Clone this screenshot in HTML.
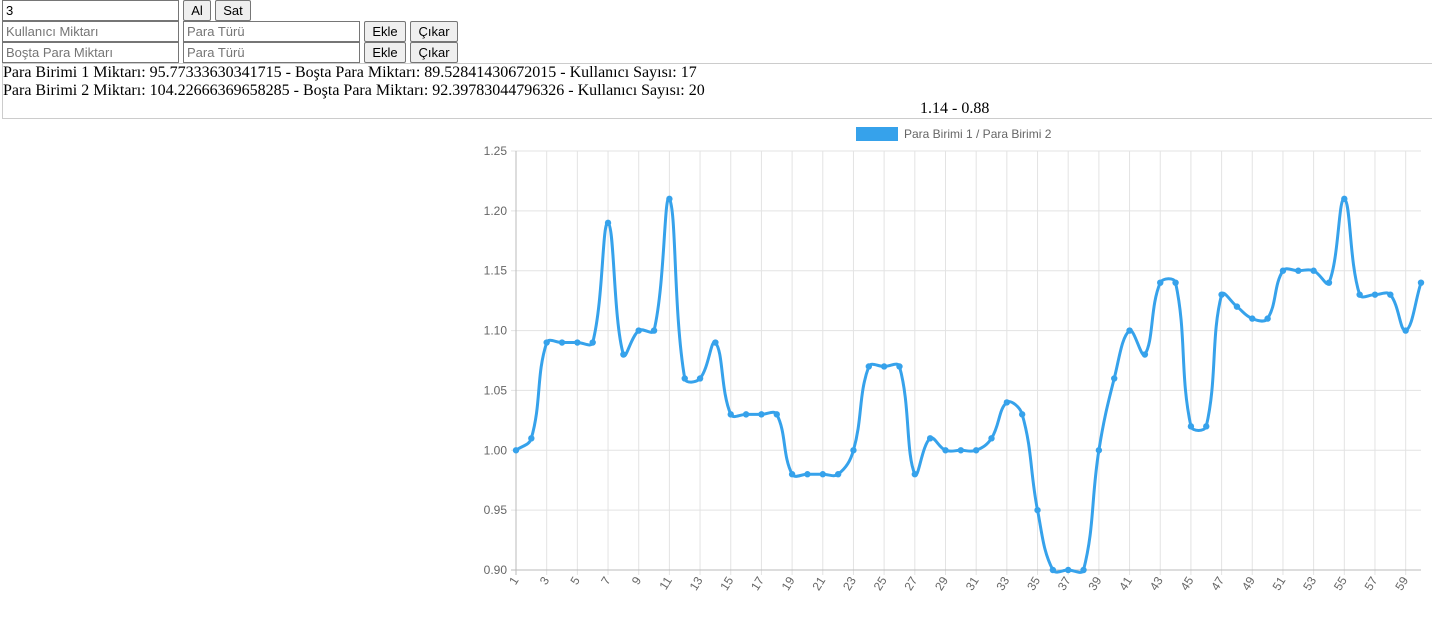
<!DOCTYPE html>
<html><head><meta charset="utf-8"><style>
body{margin:0;width:1432px;height:617px;overflow:hidden;background:#fff;font-family:"Liberation Serif",serif;}
input{position:absolute;height:21px;box-sizing:border-box;border:1px solid #767676;font:13px "Liberation Sans",sans-serif;padding:1px 3px;margin:0;}
input::placeholder{color:#757575}
button{position:absolute;height:21px;box-sizing:border-box;border:1px solid #767676;border-radius:2px;background:#efefef;font:13px "Liberation Sans",sans-serif;padding:0 5px;margin:0;}
#info{position:absolute;left:2px;top:63px;width:1430px;height:56px;border:1px solid #ccc;border-right:none;box-sizing:border-box;font-size:16px;line-height:18px;}
</style></head><body>
<input style="left:2px;top:0;width:177px" value="3">
<button style="left:183px;top:0;width:28px">Al</button>
<button style="left:215px;top:0;width:36px">Sat</button>
<input style="left:2px;top:21px;width:177px" placeholder="Kullanıcı Miktarı">
<input style="left:183px;top:21px;width:177px" placeholder="Para Türü">
<button style="left:364px;top:21px;width:42px">Ekle</button>
<button style="left:410px;top:21px;width:48px">Çıkar</button>
<input style="left:2px;top:42px;width:177px" placeholder="Boşta Para Miktarı">
<input style="left:183px;top:42px;width:177px" placeholder="Para Türü">
<button style="left:364px;top:42px;width:42px">Ekle</button>
<button style="left:410px;top:42px;width:48px">Çıkar</button>
<div id="info">
<div>Para Birimi 1 Miktarı: 95.77333630341715 - Boşta Para Miktarı: 89.52841430672015 - Kullanıcı Sayısı: 17</div>
<div>Para Birimi 2 Miktarı: 104.22666369658285 - Boşta Para Miktarı: 92.39783044796326 - Kullanıcı Sayısı: 20</div>
<div style="padding-left:917px">1.14 - 0.88</div>
</div>
<svg id="chart" style="position:absolute;left:0;top:0" width="1432" height="617"></svg>
<script>
const labels=[];for(let i=1;i<=60;i++)labels.push(String(i));
const values=[1.00,1.01,1.09,1.09,1.09,1.09,1.19,1.08,1.10,1.10,1.21,1.06,1.06,1.09,1.03,1.03,1.03,1.03,0.98,0.98,0.98,0.98,1.00,1.07,1.07,1.07,0.98,1.01,1.00,1.00,1.00,1.01,1.04,1.03,0.95,0.90,0.90,0.90,1.00,1.06,1.10,1.08,1.14,1.14,1.02,1.02,1.13,1.12,1.11,1.11,1.15,1.15,1.15,1.14,1.21,1.13,1.13,1.13,1.10,1.14];
const yTicks=[0.90,0.95,1.00,1.05,1.10,1.15,1.20,1.25];
const seriesName="Para Birimi 1 / Para Birimi 2";
const NS="http://www.w3.org/2000/svg",svg=document.getElementById('chart');
const X0=516,X1=1421,Y0=570,Y1=151,ymin=0.90,ymax=1.25;
const xs=i=>X0+(X1-X0)*i/(labels.length-1);
const ys=v=>Y0-(v-ymin)/(ymax-ymin)*(Y0-Y1);
function mk(t,a,p){const e=document.createElementNS(NS,t);for(const k in a)e.setAttribute(k,a[k]);(p||svg).appendChild(e);return e;}
yTicks.forEach(t=>{const y=ys(t);
const g=mk('line',{x1:X0-5,x2:X1,y1:y,y2:y,stroke:'#e3e3e3'});

const tx=mk('text',{x:X0-9,y:y+4,'text-anchor':'end','font-size':12,fill:'#666','font-family':'Liberation Sans, sans-serif'});
tx.textContent=t.toFixed(2);
});
labels.forEach((l,i)=>{if(i%2)return;const x=xs(i);
const g=mk('line',{x1:x,x2:x,y1:Y1,y2:Y0+5,stroke:i==0?'#bbb':'#e3e3e3'});

const tx=mk('text',{x:x+3,y:Y0+10,'text-anchor':'end','font-size':12,fill:'#666','font-family':'Liberation Sans, sans-serif',transform:`rotate(-58 ${x+3} ${Y0+10})`});
tx.textContent=l;
});
const ax=mk('line',{x1:X0-5,x2:X1,y1:Y0,y2:Y0,stroke:'#bbb'});

const pts=values.map((v,i)=>[xs(i),ys(v)]);const T=0.4;
let d=`M${pts[0][0]},${pts[0][1]}`;
const cps=pts.map((p,i)=>{const a=pts[Math.max(0,i-1)],c=pts[Math.min(pts.length-1,i+1)];
const d01=Math.hypot(p[0]-a[0],p[1]-a[1]),d12=Math.hypot(c[0]-p[0],c[1]-p[1]);
let fa=d01/(d01+d12||1),fb=d12/(d01+d12||1);fa=T*fa;fb=T*fb;
return{pr:[p[0]-fa*(c[0]-a[0]),p[1]-fa*(c[1]-a[1])],nx:[p[0]+fb*(c[0]-a[0]),p[1]+fb*(c[1]-a[1])]};});
for(let i=1;i<pts.length;i++){const c1=cps[i-1].nx,c2=cps[i].pr;d+=` C${c1[0]},${c1[1]} ${c2[0]},${c2[1]} ${pts[i][0]},${pts[i][1]}`;}
const ln=mk('path',{d:d,fill:'none',stroke:'#36a2eb','stroke-width':3});

pts.forEach(p=>{const c=mk('circle',{cx:p[0],cy:p[1],r:3.2,fill:'#36a2eb'});
});
const lb=mk('rect',{x:856,y:127,width:42,height:14,fill:'#36a2eb'});

const lt=mk('text',{x:904,y:138,'font-size':12,fill:'#666','font-family':'Liberation Sans, sans-serif'});
lt.textContent=seriesName;

</script>
</body></html>
